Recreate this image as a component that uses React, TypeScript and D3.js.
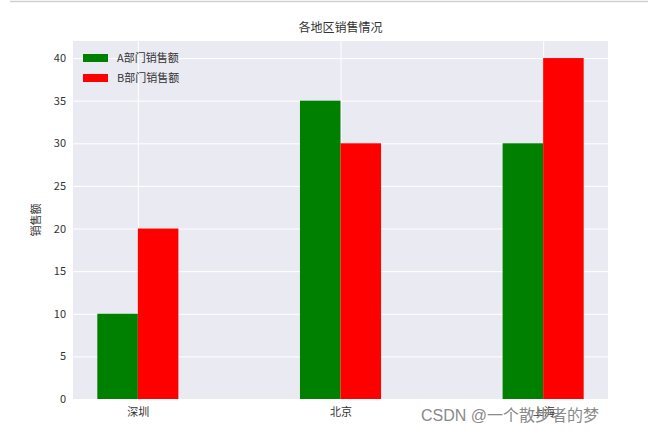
import React, { useEffect, useRef } from 'react'
import * as d3 from 'd3'

const categories = ['深圳', '北京', '上海']
const seriesA = [10, 35, 30]
const seriesB = [20, 30, 40]
const seriesNames = ['A部门销售额', 'B部门销售额']
const seriesColors = ['#008000', '#ff0000']
const yTicks = [0, 5, 10, 15, 20, 25, 30, 35, 40]

const W = 648
const H = 436
const margin = { left: 73, right: 40, top: 41, bottom: 37 }
const FONT = '"Noto Sans CJK SC", "Noto Sans", sans-serif'

const App = (): JSX.Element => {
  const ref = useRef<SVGSVGElement>(null)

  useEffect(() => {
    const svg = d3.select(ref.current)
    svg.selectAll('*').remove()

    const innerW = W - margin.left - margin.right
    const innerH = H - margin.top - margin.bottom
    const barW = 0.2

    const x = d3
      .scaleLinear()
      .domain([-0.32, categories.length - 1 + 0.32])
      .range([margin.left, margin.left + innerW])
    const y = d3
      .scaleLinear()
      .domain([0, 42])
      .range([margin.top + innerH, margin.top])

    // page edge line
    svg
      .append('line')
      .attr('x1', 10)
      .attr('x2', W)
      .attr('y1', 1.5)
      .attr('y2', 1.5)
      .attr('stroke', '#d0d0d0')
      .attr('stroke-width', 1.5)

    svg
      .append('rect')
      .attr('x', margin.left)
      .attr('y', margin.top)
      .attr('width', innerW)
      .attr('height', innerH)
      .attr('fill', '#eaeaf2')

    // y grid + labels
    const yAxis = d3.axisLeft(y).tickValues(yTicks).tickSize(-innerW).tickPadding(7)
    svg
      .append('g')
      .attr('transform', `translate(${margin.left},0)`)
      .call(yAxis)
      .call(g => {
        g.select('.domain').remove()
        g.selectAll('.tick line').attr('stroke', '#ffffff').attr('stroke-width', 1)
        g.selectAll('.tick text')
          .attr('fill', '#333')
          .attr('font-size', 11)
          .attr('font-family', FONT)
      })

    // x grid + labels
    const xAxis = d3
      .axisBottom(x)
      .tickValues(categories.map((_, i) => i))
      .tickFormat(i => categories[+i])
      .tickSize(-innerH)
      .tickPadding(9)
    svg
      .append('g')
      .attr('transform', `translate(0,${margin.top + innerH})`)
      .call(xAxis)
      .call(g => {
        g.select('.domain').remove()
        g.selectAll('.tick line').attr('stroke', '#ffffff').attr('stroke-width', 1)
        g.selectAll('.tick text')
          .attr('fill', '#333')
          .attr('font-size', 11)
          .attr('font-family', FONT)
      })

    // bars
    const series = [seriesA, seriesB]
    series.forEach((vals, s) => {
      svg
        .append('g')
        .selectAll('rect')
        .data(vals)
        .join('rect')
        .attr('x', (_, i) => x(i - barW + s * barW))
        .attr('width', x(barW) - x(0))
        .attr('y', d => y(d))
        .attr('height', d => y(0) - y(d))
        .attr('fill', seriesColors[s])
    })

    // title
    svg
      .append('text')
      .attr('x', margin.left + innerW / 2)
      .attr('y', 32)
      .attr('text-anchor', 'middle')
      .attr('font-size', 12)
      .attr('font-family', FONT)
      .attr('fill', '#333')
      .text('各地区销售情况')

    // y label
    svg
      .append('text')
      .attr('transform', `translate(40,${margin.top + innerH / 2}) rotate(-90)`)
      .attr('text-anchor', 'middle')
      .attr('font-size', 11)
      .attr('font-family', FONT)
      .attr('fill', '#333')
      .text('销售额')

    // legend
    const legend = svg.append('g').attr('transform', `translate(83,52)`)
    seriesNames.forEach((name, i) => {
      const row = legend.append('g').attr('transform', `translate(0,${i * 20})`)
      row
        .append('rect')
        .attr('width', 25)
        .attr('height', 8)
        .attr('y', 2)
        .attr('fill', seriesColors[i])
      row
        .append('text')
        .attr('x', 34)
        .attr('y', 10)
        .attr('font-size', 11)
        .attr('font-family', FONT)
        .attr('fill', '#333')
        .text(name)
    })

    // watermark
    svg
      .append('text')
      .attr('x', 421)
      .attr('y', 421)
      .attr('font-size', 16)
      .attr('font-family', '"Liberation Sans", "Noto Sans CJK SC", sans-serif')
      .attr('fill', '#8a8a8a')
      .text('CSDN @一个散步者的梦')
  }, [])

  return (
    <svg
      ref={ref}
      width={W}
      height={H}
      style={{ position: 'absolute', left: 0, top: 0, background: '#fff' }}
    />
  )
}

export default App
